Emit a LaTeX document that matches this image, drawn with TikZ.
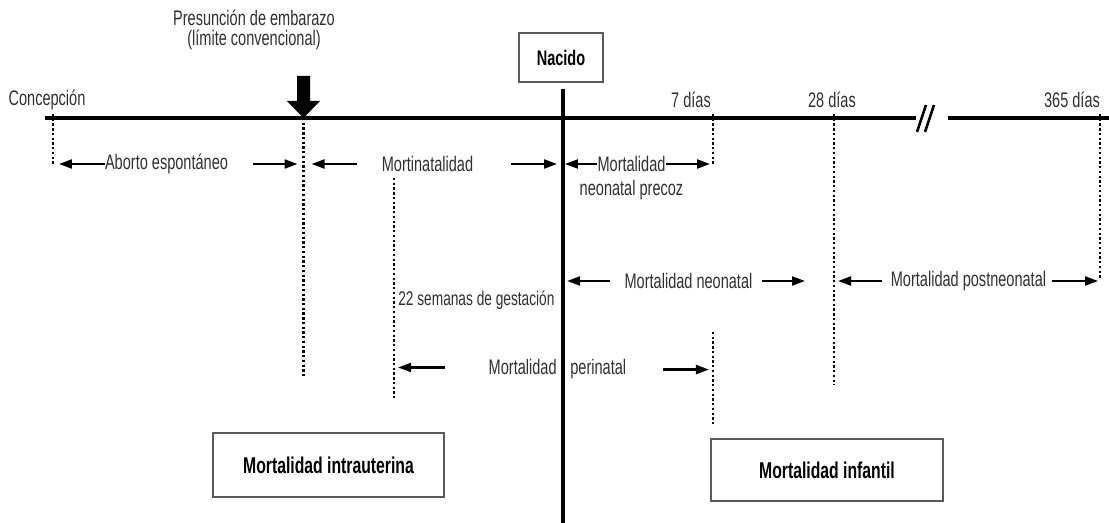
\documentclass[tikz,border=0pt]{standalone}
\usepackage{fontspec}
\setmainfont{Liberation Sans}[FakeStretch = 0.69]
\usetikzlibrary{arrows.meta, positioning}
\definecolor{inkgray}{HTML}{303030}
\definecolor{framegray}{HTML}{5A5A5A}
\tikzset{> = { Triangle[length = 2.6mm, width = 1.8mm] }}

\begin{document}
\begin{tikzpicture}[x = 0.02cm, y = -0.02cm, font = \fontsize{12}{14.5}\selectfont, txt/.style = { text = inkgray, inner sep = 0pt }, spanarrow/.style = { ->, line width = 1.2pt }, guide/.style = { line width = 1.3pt, dash pattern = on 1.3pt off 1.4pt }, axisline/.style = { line width = 1.8pt }, framebox/.style = { draw = framegray, line width = 1.2pt, font = \fontsize{13}{15}\selectfont\bfseries }]
				\useasboundingbox (0, 0) rectangle (1109, 523);

				\coordinate (axisL) at (45, 118);
				\coordinate (brkL) at (916, 118);
				\coordinate (brk) at (925.5, 118);
				\coordinate (brkR) at (948, 118);
				\coordinate (axisR) at (1109, 118);
				\coordinate (tConc) at (53, 114);
				\coordinate (tPres) at (303.5, 118);
				\coordinate (tBirth) at (563, 89);
				\coordinate (birthEnd) at (563, 523);
				\coordinate (t7) at (713, 114);
				\coordinate (t7low) at (713, 332);
				\coordinate (t22) at (394, 178);
				\coordinate (t28) at (834, 114);
				\coordinate (t365) at (1100, 114);

				\node [txt] (conc) at (47, 100) {Concepción};
				\node [txt] (pres) at (254, 18) {Presunción de embarazo};
				\node [txt, below = 2pt of pres] (presB) {(límite convencional)};
				\node [framebox, font = \fontsize{12}{14}\selectfont\bfseries, minimum width = 1.68cm, minimum height = 0.98cm] (nacido) at (561, 57.5) {Nacido};
				\node [txt] (d7) at (691, 100) {7 días};
				\node [txt] (d28) at (832, 100) {28 días};
				\node [txt] (d365) at (1072, 100) {365 días};

				\node [txt] (aborto) at (166.5, 164) {Aborto espontáneo};
				\node [txt] (mortin) at (427.5, 164) {Mortinatalidad};
				\node [txt] (precoz) at (631.5, 164) {Mortalidad};
				\node [txt, below = 4.5pt of precoz] (precozB) {neonatal precoz};
				\node [txt] (neonatal) at (688.5, 281) {Mortalidad neonatal};
				\node [txt] (postneo) at (968.5, 281) {Mortalidad postneonatal};
				\node [txt, anchor = west, font = \fontsize{11.3}{13}\selectfont] (semanas) at (398, 300) {22 semanas de gestación};
				\node [txt, anchor = base east] (perinL) at (557, 375) {Mortalidad};
				\node [txt, anchor = base west] (perinR) at (570, 375) {perinatal};

				\node [framebox, minimum width = 4.62cm, minimum height = 1.28cm] (intra) at (328.5, 465) {Mortalidad intrauterina};
				\node [framebox, minimum width = 4.64cm, minimum height = 1.24cm] (infantil) at (827, 470) {Mortalidad infantil};

				\draw [axisline] (axisL) -- (brkL);
				\draw [axisline] (brkR) -- (axisR);
				\draw [line width = 1.5pt] ([shift = {(-8.5, 14)}] brk) -- ++(9, -27);
				\draw [line width = 1.5pt] ([shift = {(-0.5, 14)}] brk) -- ++(9, -27);
				\draw [axisline] (tBirth) -- (birthEnd);
				\fill (297, 76) -- (310, 76) -- (310, 101) -- (320, 101) -- (tPres) -- (287, 101) -- (297, 101) -- cycle;

				\draw [guide] (tConc) -- ++(0, 51);
				\draw [guide] (tPres) -- ++(0, 259);
				\draw [guide] (t22) -- ++(0, 220);
				\draw [guide] (t7) -- ++(0, 51);
				\draw [guide] (t7low) -- ++(0, 93);
				\draw [guide] (t28) -- ++(0, 271);
				\draw [guide] (t365) -- ++(0, 166);

				\draw [spanarrow, shorten > = 3.4pt] (aborto.west) -- (tConc |- aborto);
				\draw [spanarrow, shorten < = 14.2pt, shorten > = 3.4pt] (aborto.east) -- (tPres |- aborto);
				\draw [spanarrow, shorten < = 13.7pt, shorten > = 4.6pt] (mortin.west) -- (tPres |- mortin);
				\draw [spanarrow, shorten < = 21.6pt, shorten > = 3.4pt] (mortin.east) -- (tBirth |- mortin);
				\draw [spanarrow, shorten > = 1.1pt] (precoz.west) -- (tBirth |- precoz);
				\draw [spanarrow, shorten > = 1.7pt] (precoz.east) -- (t7 |- precoz);

				\draw [spanarrow, shorten < = 8pt, shorten > = 2.3pt] (neonatal.west) -- (tBirth |- neonatal);
				\draw [spanarrow, shorten < = 5.1pt, shorten > = 16.5pt] (neonatal.east) -- (t28 |- neonatal);
				\draw [spanarrow, shorten < = 4.6pt, shorten > = 2.3pt] (postneo.west) -- (t28 |- postneo);
				\draw [spanarrow, shorten < = 3.4pt, shorten > = 1.1pt] (postneo.east) -- (t365 |- postneo);

				\draw [spanarrow, shorten < = 24.5pt, shorten > = 2.3pt] (perinL.west) -- (t22 |- perinL);
				\draw [spanarrow, shorten < = 21pt, shorten > = 2.3pt] (perinR.east) -- (t7 |- perinR);
			\end{tikzpicture}
\end{document}
